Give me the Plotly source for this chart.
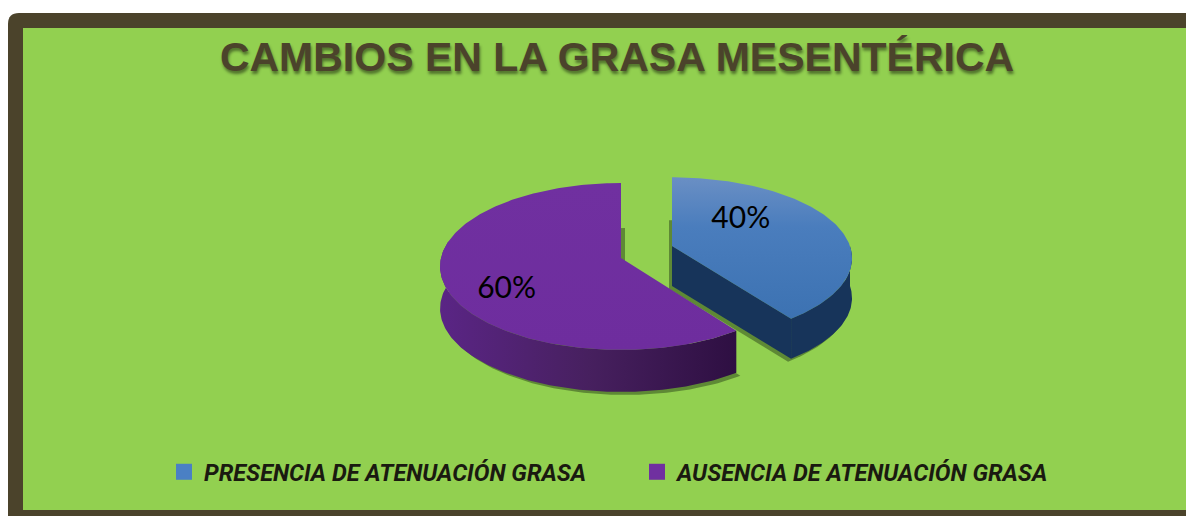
import math
import plotly.graph_objects as go

# Data
title_text = "CAMBIOS EN LA GRASA MESENTÉRICA"
slice_labels = ["PRESENCIA DE ATENUACIÓN GRASA", "AUSENCIA DE ATENUACIÓN GRASA"]
slice_values = [40, 60]

# Styling / geometry of each slice
geom = [
    dict(cx=672, cy=246, rx=178, ry=79, k=0.15, depth=40, sx=-3, sy=3, wall=(90, 144),
         lab_t=50, lab_r=0.53),
    dict(cx=621, cy=258, rx=180, ry=82.6, k=0.102, depth=42, sx=4, sy=3, wall=(144, 282),
         lab_t=238, lab_r=0.72),
]
face_grad = [
    [[0, "#3c72b2"], [0.65, "#4a7dbd"], [1, "#6a8fc4"]],
    [[0, "#6e2d9e"], [1, "#7030a0"]],
]
wall_grad = [
    [[0, "#17345a"], [1, "#17345a"]],
    [[0, "#5a2585"], [0.5, "#47205f"], [1, "#2e0f42"]],
]
legend_colors = ["#4a80c4", "#7030a0"]
BG = "#92d050"
FRAME = "#4b432b"


def pt(g, deg, dy=0, ox=0, oy=0):
    th = math.radians(deg)
    X, Y = math.sin(th), -math.cos(th)
    s = 1 / (1 - g["k"] * Y)
    return g["cx"] + g["rx"] * X * s + ox, g["cy"] + g["ry"] * Y * s + dy + oy


def arc(g, a0, a1, dy=0, ox=0, oy=0):
    n = max(2, int(abs(a1 - a0)))
    return [pt(g, a0 + (a1 - a0) * i / n, dy, ox, oy) for i in range(n + 1)]


def poly(points, **kw):
    xs = [p[0] for p in points] + [points[0][0]]
    ys = [p[1] for p in points] + [points[0][1]]
    return go.Scatter(x=xs, y=ys, mode="lines", fill="toself", line=dict(width=0),
                      hoverinfo="skip", showlegend=False, **kw)


fig = go.Figure()
total = sum(slice_values)
start = 0.0
spans = []
for v in slice_values:
    spans.append((start, start + 360 * v / total))
    start += 360 * v / total

# drop shadows
for g, (a0, a1) in zip(geom, spans):
    c = (g["cx"] + g["sx"], g["cy"] + g["depth"] + g["sy"])
    fig.add_trace(poly([c] + arc(g, a0, a1, g["depth"], g["sx"], g["sy"]),
                       fillcolor="rgba(30,50,20,0.45)"))

# walls
for i, (g, (a0, a1)) in enumerate(zip(geom, spans)):
    w0, w1 = g["wall"]
    outer = arc(g, w0, w1) + arc(g, w1, w0, g["depth"])
    fig.add_trace(poly(outer, fillgradient=dict(type="horizontal", colorscale=wall_grad[i])))
    if i == 0:
        c = (g["cx"], g["cy"])
        p = pt(g, a1)
        inner = [c, p, (p[0], p[1] + g["depth"]), (c[0], c[1] + g["depth"])]
        fig.add_trace(poly(inner, fillcolor=wall_grad[0][0][1]))

# top faces
for i, (g, (a0, a1)) in enumerate(zip(geom, spans)):
    face = [(g["cx"], g["cy"])] + arc(g, a0, a1)
    fig.add_trace(poly(face, fillgradient=dict(type="vertical", colorscale=face_grad[i])))

# percentage labels
for g, v in zip(geom, slice_values):
    th = math.radians(g["lab_t"])
    X, Y = g["lab_r"] * math.sin(th), -g["lab_r"] * math.cos(th)
    s = 1 / (1 - g["k"] * Y)
    fig.add_trace(go.Scatter(
        x=[g["cx"] + g["rx"] * X * s], y=[g["cy"] + g["ry"] * Y * s],
        mode="text", text=[f"{v}%"], hoverinfo="skip", showlegend=False,
        textfont=dict(family="Lato, Open Sans, sans-serif", size=30, color="#000000"),
    ))

# legend
for name, col in zip(slice_labels, legend_colors):
    fig.add_trace(go.Scatter(x=[None], y=[None], mode="markers", name=name,
                             marker=dict(symbol="square", size=20, color=col)))

fig.update_layout(
    width=1186, height=517, margin=dict(l=0, r=0, t=0, b=0),
    paper_bgcolor="#ffffff", plot_bgcolor="#ffffff",
    xaxis=dict(range=[0, 1186], visible=False, fixedrange=True),
    yaxis=dict(range=[517, 0], visible=False, fixedrange=True),
    title=dict(
        text=title_text, x=617 / 1186, xanchor="center", y=1 - 57 / 517, yanchor="middle",
        font=dict(family="Liberation Sans, sans-serif", size=41, color=FRAME, weight="bold",
                  shadow="1px 3px 3px rgba(0,0,0,0.45)"),
    ),
    legend=dict(
        orientation="h", x=164 / 1186, y=1 - 472 / 517, xanchor="left", yanchor="middle",
        bgcolor="rgba(0,0,0,0)", entrywidth=428, entrywidthmode="pixels", itemwidth=30,
        font=dict(family="Roboto, Liberation Sans, sans-serif", size=23.5,
                  color="#1a1a10", weight="bold", style="italic"),
    ),
    shapes=[
        dict(type="path", layer="below", line=dict(width=0), fillcolor=FRAME,
             path="M 8 24 Q 8 13 19 13 L 1186 13 L 1186 516 L 8 516 Z"),
        dict(type="rect", layer="below", line=dict(width=0), fillcolor=BG,
             x0=23, y0=28, x1=1186, y1=510),
    ],
)

fig.write_html("out.html", config={"displayModeBar": False},
               post_script="document.body.style.margin='0';")
